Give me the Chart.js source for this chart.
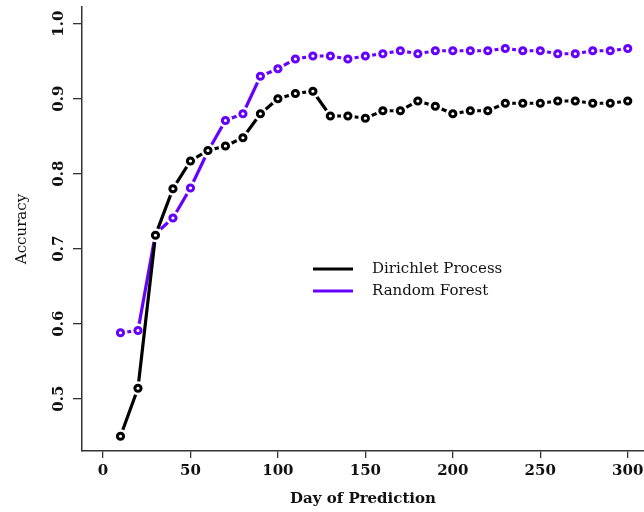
<!DOCTYPE html>
<html>
<head>
<meta charset="utf-8">
<title>Accuracy by day of prediction</title>
<script src="https://cdn.jsdelivr.net/npm/chart.js@4.4.1/dist/chart.umd.min.js"></script>
<style>
  html, body { margin: 0; padding: 0; background: #fff; }
  #wrap { width: 644px; height: 512px; }
</style>
</head>
<body>
<div id="wrap"><canvas id="accChart" width="644" height="512"></canvas></div>
<script>
// data
const days = [10, 20, 30, 40, 50, 60, 70, 80, 90, 100, 110, 120, 130, 140, 150,
              160, 170, 180, 190, 200, 210, 220, 230, 240, 250, 260, 270, 280, 290, 300];
const dirichlet = [0.450, 0.514, 0.718, 0.780, 0.817, 0.831, 0.837, 0.848, 0.880, 0.900,
                   0.907, 0.910, 0.877, 0.877, 0.874, 0.884, 0.884, 0.897, 0.890, 0.880,
                   0.884, 0.884, 0.894, 0.894, 0.894, 0.897, 0.897, 0.894, 0.894, 0.897];
const randomForest = [0.588, 0.591, 0.720, 0.741, 0.781, 0.830, 0.871, 0.880, 0.930, 0.940,
                      0.953, 0.957, 0.957, 0.953, 0.957, 0.960, 0.964, 0.960, 0.964, 0.964,
                      0.964, 0.964, 0.967, 0.964, 0.964, 0.960, 0.960, 0.964, 0.964, 0.967];
const xTicks = [0, 50, 100, 150, 200, 250, 300];
const yTicks = [0.5, 0.6, 0.7, 0.8, 0.9, 1.0];
const seriesNames = ['Dirichlet Process', 'Random Forest'];

const BLACK = '#000000';
const PURPLE = '#6600ff';
const AXIS = '#333333';
const SERIF = "'DejaVu Serif', 'Liberation Serif', serif";

function toPoints(ys) {
    return days.map((d, i) => ({ x: d, y: ys[i] }));
}

// each series = line + white halo (gives the gaps) + open circle markers
function seriesSets(name, ys, color, baseOrder) {
    const pts = toPoints(ys);
    return [{
        label: name,
        isLegend: true,
        data: pts,
        borderColor: color,
        borderWidth: 3.2,
        pointRadius: 0,
        showLine: true,
        fill: false,
        order: baseOrder + 2
    }, {
        label: name + ' halo',
        data: pts,
        showLine: false,
        pointRadius: 7,
        pointBorderWidth: 0,
        pointBackgroundColor: '#ffffff',
        pointBorderColor: '#ffffff',
        order: baseOrder + 1
    }, {
        label: name + ' points',
        data: pts,
        showLine: false,
        pointRadius: 3.1,
        pointBorderWidth: 3,
        pointBorderColor: color,
        pointBackgroundColor: '#ffffff',
        order: baseOrder
    }];
}

// legend drawn inside the plot, no box
const innerLegend = {
    id: 'innerLegend',
    afterDraw(chart) {
        const ctx = chart.ctx;
        const items = chart.data.datasets.filter(ds => ds.isLegend);
        ctx.save();
        ctx.font = '15px ' + SERIF;
        ctx.textBaseline = 'middle';
        ctx.textAlign = 'left';
        items.forEach((ds, i) => {
            const y = 269 + i * 22;
            ctx.strokeStyle = ds.borderColor;
            ctx.lineWidth = 3.2;
            ctx.beginPath();
            ctx.moveTo(313, y);
            ctx.lineTo(353, y);
            ctx.stroke();
            ctx.fillStyle = '#111';
            ctx.fillText(ds.label, 372, y);
        });
        ctx.restore();
    }
};

const ctx = document.getElementById('accChart').getContext('2d');
const chart = new Chart(ctx, {
    type: 'scatter',
    data: {
        datasets: [
            ...seriesSets(seriesNames[0], dirichlet, BLACK, 1),
            ...seriesSets(seriesNames[1], randomForest, PURPLE, 4)
        ]
    },
    options: {
        responsive: false,
        animation: false,
        clip: false,
        layout: { autoPadding: false, padding: { top: 7, right: 0, left: 0, bottom: 0 } },
        plugins: {
            legend: { display: false },
            tooltip: { enabled: false }
        },
        scales: {
            x: {
                type: 'linear',
                min: -12,
                max: 309.3,
                afterFit: s => { s.height = 61; s.paddingLeft = 0; s.paddingRight = 0; },
                afterBuildTicks: s => { s.ticks = xTicks.map(v => ({ value: v })); },
                grid: { display: true, drawOnChartArea: false, drawTicks: true, tickLength: 7, color: AXIS, lineWidth: 1.3 },
                border: { display: true, color: AXIS, width: 1.5 },
                ticks: {
                    color: '#111',
                    padding: 4,
                    font: { family: SERIF, size: 15, weight: 'bold' },
                    maxRotation: 0,
                    callback: v => String(v)
                },
                title: {
                    display: true,
                    text: 'Day of Prediction',
                    color: '#111',
                    font: { family: SERIF, size: 15, weight: 'bold' },
                    padding: { top: 0, bottom: 4 }
                }
            },
            y: {
                type: 'linear',
                min: 0.4303,
                max: 1.0223,
                afterFit: s => { s.width = 82; s.paddingTop = 0; s.paddingBottom = 0; },
                afterBuildTicks: s => { s.ticks = yTicks.map(v => ({ value: v })); },
                grid: { display: true, drawOnChartArea: false, drawTicks: true, tickLength: 9, color: AXIS, lineWidth: 1.3 },
                border: { display: true, color: AXIS, width: 1.5 },
                ticks: {
                    color: '#111',
                    padding: 1,
                    minRotation: 90,
                    maxRotation: 90,
                    crossAlign: 'center',
                    font: { family: SERIF, size: 15, weight: 'bold' },
                    callback: v => Number(v).toFixed(1)
                },
                title: {
                    display: true,
                    text: 'Accuracy',
                    color: '#111',
                    font: { family: SERIF, size: 15 },
                    padding: { top: 13, bottom: 0 }
                }
            }
        }
    },
    plugins: [innerLegend]
});
</script>
</body>
</html>
